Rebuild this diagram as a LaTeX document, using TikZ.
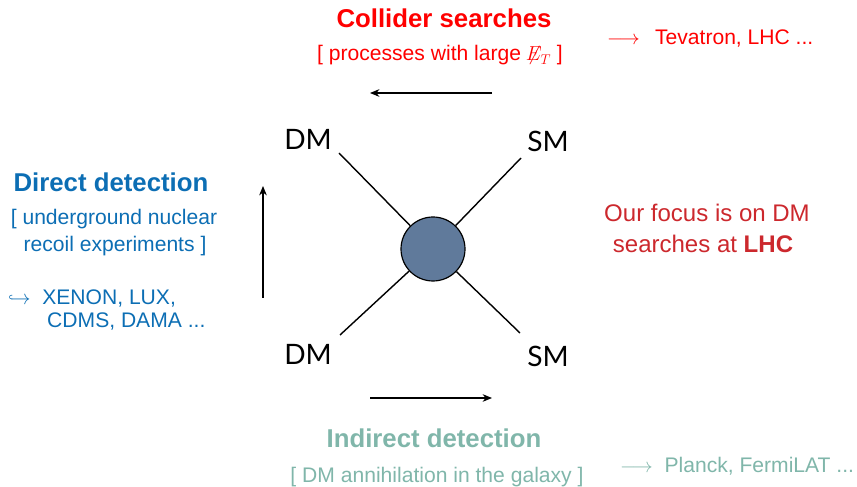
\documentclass[tikz,border=0pt]{standalone}
\usepackage{amsmath}
\usepackage{fontspec}
\setmainfont{Liberation Sans}
\newfontfamily\gillfont{Lato}
\usetikzlibrary{arrows,arrows.meta,positioning}
\definecolor{collred}{RGB}{255,0,0}
\definecolor{dirblue}{RGB}{12,110,180}
\definecolor{indteal}{RGB}{128,182,170}
\definecolor{focusred}{RGB}{204,40,45}
\definecolor{blobblue}{RGB}{96,122,155}

\begin{document}
\begin{tikzpicture}[x=0.03cm,y=-0.03cm,>={Stealth[length=8pt,width=6.5pt]},
    title/.style={font=\fontsize{22}{26}\selectfont\bfseries,anchor=base,inner sep=0pt},
    sub/.style={font=\fontsize{18}{22}\selectfont,anchor=base,inner sep=0pt},
    part/.style={font=\gillfont\fontsize{24}{28}\selectfont,anchor=base,inner sep=0pt},
    leg/.style={line width=1.2pt},
    flow/.style={->,line width=1.2pt}]
  \useasboundingbox (0,0) rectangle (857,487);

  % blob and legs
  \node[circle,draw,fill=blobblue,line width=1pt,minimum size=1.92cm,inner sep=0pt] (blob) at (433,249) {};
  \coordinate (etl) at (339,153);
  \coordinate (etr) at (521,158);
  \coordinate (ebl) at (340,335);
  \coordinate (ebr) at (520,333);
  \draw[leg] (blob) -- (etl);
  \draw[leg] (blob) -- (etr);
  \draw[leg] (blob) -- (ebl);
  \draw[leg] (blob) -- (ebr);

  \node[part] (dmtop) at (308,150) {DM};
  \node[part] (smtop) at (548,152) {SM};
  \node[part] (dmbot) at (308,365) {DM};
  \node[part] (smbot) at (548,367) {SM};

  % flow arrows
  \coordinate (ctop1) at (492,93);
  \coordinate (ctop2) at (370,93);
  \coordinate (cbot1) at (370,398);
  \coordinate (cbot2) at (492,398);
  \coordinate (cleft1) at (263,298);
  \coordinate (cleft2) at (263,186);
  \draw[flow] (ctop1) -- (ctop2);
  \draw[flow] (cbot1) -- (cbot2);
  \draw[flow] (cleft1) -- (cleft2);

  % collider
  \node[title,text=collred] (coll) at (444,28) {Collider searches};
  \node[sub,text=collred] (collsub) at (440,61) {[ processes with large $\not\!\!E_T$ ]};
  \node[sub,anchor=base west,text=collred] (tev) at (607,45) {$\longrightarrow$\ \ \,Tevatron, LHC ...};

  % direct
  \node[title,text=dirblue] (dir) at (111,192) {Direct detection};
  \node[sub,text=dirblue] (dirsub1) at (114,225) {[ underground nuclear};
  \node[sub,text=dirblue] (dirsub2) at (115,252) {recoil experiments ]};
  \node[sub,anchor=base west,text=dirblue] (xen) at (8,305) {$\hookrightarrow$\ \ XENON, LUX,};
  \node[sub,anchor=base west,text=dirblue] (cdms) at (47,328) {CDMS, DAMA ...};

  % indirect
  \node[title,text=indteal] (ind) at (434,448) {Indirect detection};
  \node[sub,text=indteal] (indsub) at (437,483) {[ DM annihilation in the galaxy ]};
  \node[sub,anchor=base west,text=indteal] (planck) at (620,473) {$\longrightarrow$\ \ Planck, FermiLAT ...};

  % focus
  \node[sub,font=\fontsize{20.5}{24}\selectfont,text=focusred] (foc1) at (707,222) {Our focus is on DM};
  \node[sub,font=\fontsize{20.5}{24}\selectfont,text=focusred] (foc2) at (703,253) {searches at \textbf{LHC}};
\end{tikzpicture}
\end{document}
